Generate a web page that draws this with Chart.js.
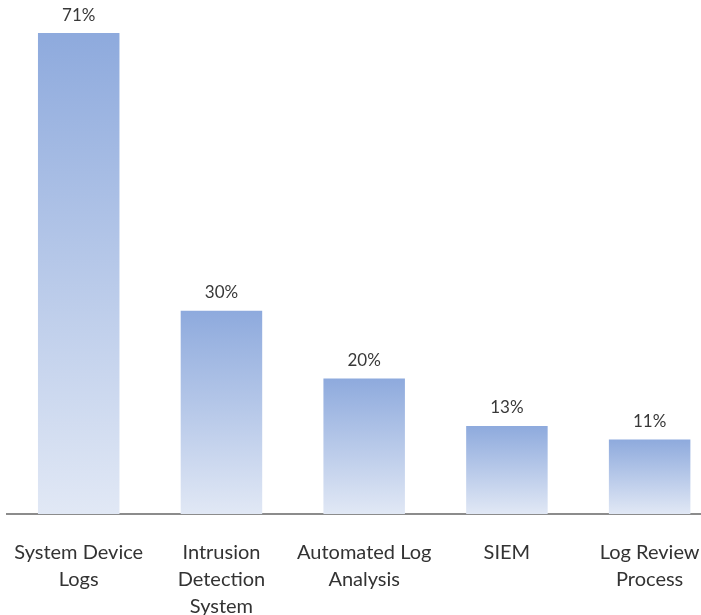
<!DOCTYPE html>
<html lang="en">

<head>
    <meta charset="UTF-8">
    <title>Log sources</title>
    <script src="https://cdn.jsdelivr.net/npm/chart.js"></script>
    <style>
        body {
            margin: 0;
            background: #fff;
            overflow: hidden;
        }

        .chart-box {
            position: absolute;
            left: -3px;
            top: 0;
            width: 725px;
            height: 615px;
        }
    </style>
</head>

<body>

    <div class="chart-box">
        <canvas id="grafFuentes"></canvas>
    </div>

    <script>
        const categorias = [
            ['System Device', 'Logs'],
            ['Intrusion', 'Detection', 'System'],
            ['Automated Log', 'Analysis'],
            ['SIEM'],
            ['Log Review', 'Process']
        ];
        const porcentajes = [71, 30, 20, 13, 11];

        // gradiente vertical por barra: azul arriba, casi blanco abajo
        function degradado(context) {
            const chart = context.chart;
            const area = chart.chartArea;
            if (!area || context.dataIndex === undefined) return '#9db5e0';
            const y = chart.scales.y;
            const top = y.getPixelForValue(porcentajes[context.dataIndex]);
            const g = chart.ctx.createLinearGradient(0, top, 0, area.bottom);
            g.addColorStop(0, '#8eaadd');
            g.addColorStop(1, '#e1e8f5');
            return g;
        }

        // etiquetas de porcentaje arriba de cada barra
        const etiquetas = {
            id: 'etiquetas',
            afterDatasetsDraw(chart) {
                const ctx = chart.ctx;
                const meta = chart.getDatasetMeta(0);
                ctx.save();
                ctx.font = '17px Lato';
                ctx.fillStyle = '#383838';
                ctx.textAlign = 'center';
                ctx.textBaseline = 'middle';
                meta.data.forEach((bar, i) => {
                    ctx.fillText(porcentajes[i] + '%', bar.x, bar.y - 18);
                });
                ctx.restore();
            }
        };

        new Chart(grafFuentes, {
            type: 'bar',
            data: {
                labels: categorias,
                datasets: [{
                    data: porcentajes,
                    backgroundColor: degradado,
                    borderWidth: 0,
                    categoryPercentage: 1,
                    barPercentage: 0.571
                }]
            },
            options: {
                responsive: true,
                maintainAspectRatio: false,
                animation: false,
                layout: {
                    padding: { left: 3, top: 6, right: 1, bottom: 0 }
                },
                plugins: {
                    legend: { display: false },
                    tooltip: { enabled: false }
                },
                scales: {
                    x: {
                        grid: { display: false },
                        border: { display: true, color: '#8c8c8c', width: 2 },
                        ticks: {
                            color: '#333333',
                            font: { family: 'Lato', size: 20, lineHeight: 1.35 },
                            padding: 17,
                            maxRotation: 0,
                            autoSkip: false
                        },
                        afterFit(scale) {
                            scale.height = 101;
                        }
                    },
                    y: {
                        display: false,
                        min: 0,
                        max: 75
                    }
                }
            },
            plugins: [etiquetas]
        });
    </script>

</body>

</html>
